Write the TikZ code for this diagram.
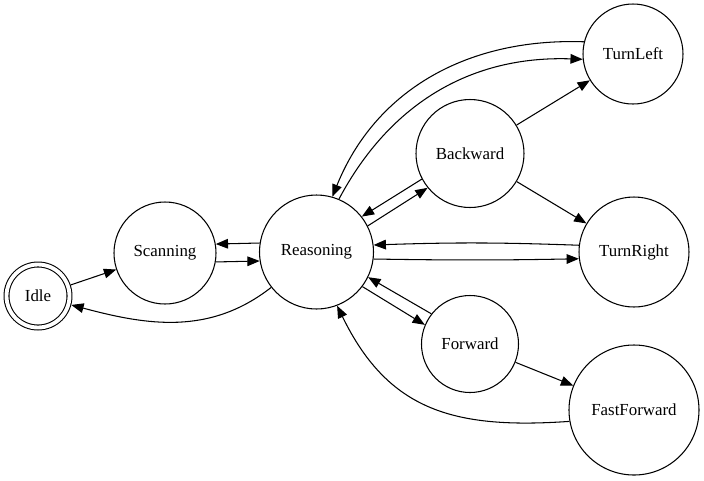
\documentclass[tikz,border=0pt]{standalone}
\usepackage{fontspec}
\setmainfont{Liberation Serif}
\usetikzlibrary{arrows.meta}
\begin{document}
\begin{tikzpicture}[line width=0.6pt,
  state/.style={draw,circle,inner sep=0pt,font=\fontsize{9.6}{11}\selectfont},
  edge/.style={-{Triangle[length=7pt,width=5.5pt]}}]
\useasboundingbox (0,0) rectangle (14.08,-9.6);
% states
\node[state,double,double distance=2.2pt,outer sep=1.7pt,minimum size=1.26cm] (idle) at (0.76,-5.92) {Idle};
\node[state,minimum size=2.04cm] (scan) at (3.30,-5.06) {Scanning};
\node[state,minimum size=2.28cm] (reason) at (6.33,-5.04) {Reasoning};
\node[state,minimum size=2.16cm] (back) at (9.40,-3.07) {Backward};
\node[state,minimum size=2.0cm] (left) at (12.66,-1.08) {TurnLeft};
\node[state,minimum size=2.2cm] (right) at (12.68,-5.04) {TurnRight};
\node[state,minimum size=1.94cm] (fwd) at (9.40,-6.88) {Forward};
\node[state,minimum size=2.6cm] (fast) at (12.68,-8.20) {FastForward};
% transitions
\draw[edge] (idle) -- (scan);
\draw[edge] (scan.-10) -- (reason.189);
\draw[edge] (reason.171) -- (scan.10);
\draw[edge] (reason.218) to[out=218,in=-15] (idle);
\draw[edge] (back.208) -- (reason.38);
\draw[edge] (reason.27) -- (back.219);
\draw[edge] (back) -- (left);
\draw[edge] (back) -- (right);
\draw[edge] (left.166) to[out=178,in=68] (reason.74);
\draw[edge] (reason.67) to[out=62,in=178] (left.186);
\draw[edge] (right.173) to[bend right=2] (reason.7);
\draw[edge] (reason.-7) to[bend right=1] (right.187);
\draw[edge] (fwd.142) -- (reason.-26);
\draw[edge] (reason.-37) -- (fwd.157);
\draw[edge] (fwd) -- (fast);
\draw[edge] (fast.190) to[out=184,in=-64,looseness=1.15] (reason.-69);
\end{tikzpicture}
\end{document}
